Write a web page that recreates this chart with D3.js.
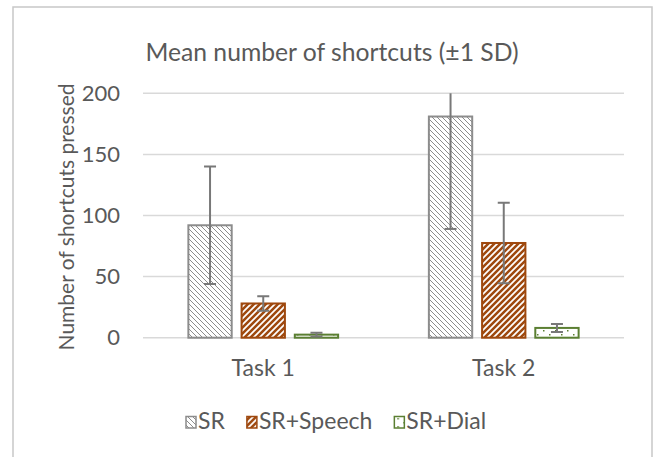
<!DOCTYPE html>
<html>
<head>
<meta charset="utf-8">
<style>
  body { margin: 0; background: #fff; }
  svg { font-family: Lato, "Open Sans", sans-serif; }
</style>
</head>
<body>
<svg width="653" height="457"></svg>
<script src="https://cdnjs.cloudflare.com/ajax/libs/d3/7.8.5/d3.min.js"></script>
<script>

// values
var tasks = ["Task 1", "Task 2"];
var series = ["SR", "SR+Speech", "SR+Dial"];
var meanSR = [92, 181],     sdSR = [48, 92];
var meanSpeech = [28, 77.5], sdSpeech = [6, 33];
var meanDial = [2.5, 8],    sdDial = [1.5, 3.3];
var yTicks = [0, 50, 100, 150, 200];

var means = [meanSR, meanSpeech, meanDial],
    sds = [sdSR, sdSpeech, sdDial];

var svg = d3.select("svg");
var textColor = "#595959";
var colors = ["#8c8c8c", "#9e480e", "#5b7f32"];

var margin = { left: 143, right: 624, top: 93.3, bottom: 337.7 };

// outer chart border (bottom runs off the picture)
svg.append("path")
    .attr("d", "M13,470V7H652V470")
    .attr("fill", "none")
    .attr("stroke", "#c8c8c8")
    .attr("stroke-width", 1.5);

// fill patterns
var defs = svg.append("defs");
var p1 = defs.append("pattern").attr("id", "pat0")
    .attr("patternUnits", "userSpaceOnUse").attr("width", 5).attr("height", 5);
p1.append("rect").attr("width", 5).attr("height", 5).attr("fill", "#fff");
p1.append("path").attr("d", "M0,0L5,5M-1,4L1,6M4,-1L6,1")
    .attr("stroke", "#8c8c8c").attr("stroke-width", 1);

var p2 = defs.append("pattern").attr("id", "pat1")
    .attr("patternUnits", "userSpaceOnUse").attr("width", 6).attr("height", 6);
p2.append("rect").attr("width", 6).attr("height", 6).attr("fill", "#fff");
p2.append("path").attr("d", "M0,6L6,0M-1,1L1,-1M5,7L7,5")
    .attr("stroke", "#9e480e").attr("stroke-width", 2.5);

var p3 = defs.append("pattern").attr("id", "pat2")
    .attr("patternUnits", "userSpaceOnUse").attr("width", 12).attr("height", 8);
p3.append("rect").attr("width", 12).attr("height", 8).attr("fill", "#fff");
p3.append("rect").attr("x", 3).attr("y", 2).attr("width", 1.5).attr("height", 1.5).attr("fill", "#5b7f32");
p3.append("rect").attr("x", 9).attr("y", 6).attr("width", 1.5).attr("height", 1.5).attr("fill", "#5b7f32");

var x = d3.scaleBand().domain(tasks).range([margin.left, margin.right]);
var xs = d3.scaleBand().domain(series).range([0, x.bandwidth()])
    .paddingInner(0.186).paddingOuter(0.853);
var y = d3.scaleLinear().domain([0, 200]).range([margin.bottom, margin.top]);

// gridlines
svg.append("g").selectAll("line")
    .data(yTicks)
  .enter().append("line")
    .attr("x1", margin.left).attr("x2", margin.right)
    .attr("y1", function(d) { return y(d); })
    .attr("y2", function(d) { return y(d); })
    .attr("stroke", "#d9d9d9")
    .attr("stroke-width", 1.5);

// y tick labels
svg.append("g").selectAll("text")
    .data(yTicks)
  .enter().append("text")
    .attr("x", 120)
    .attr("y", function(d) { return y(d); })
    .attr("dy", "0.35em")
    .attr("text-anchor", "end")
    .attr("fill", textColor)
    .style("font-size", "22px")
    .text(function(d) { return d; });

// bars
var rows = [];
series.forEach(function(s, i) {
  tasks.forEach(function(t, j) {
    rows.push({ task: t, series: s, idx: i, mean: means[i][j], sd: sds[i][j] });
  });
});

svg.append("g").selectAll("rect")
    .data(rows)
  .enter().append("rect")
    .attr("x", function(d) { return x(d.task) + xs(d.series); })
    .attr("y", function(d) { return y(d.mean); })
    .attr("width", xs.bandwidth())
    .attr("height", function(d) { return y(0) - y(d.mean); })
    .attr("fill", function(d) { return "url(#pat" + d.idx + ")"; })
    .attr("stroke", function(d) { return colors[d.idx]; })
    .attr("stroke-width", 2);

// error bars, clipped at the top of the axis
var eb = svg.append("g").selectAll("g")
    .data(rows)
  .enter().append("g")
    .attr("stroke", "#787878")
    .attr("stroke-width", 2);

eb.append("line")
    .attr("x1", function(d) { return x(d.task) + xs(d.series) + xs.bandwidth() / 2; })
    .attr("x2", function(d) { return x(d.task) + xs(d.series) + xs.bandwidth() / 2; })
    .attr("y1", function(d) { return y(Math.min(200, d.mean + d.sd)); })
    .attr("y2", function(d) { return y(Math.max(0, d.mean - d.sd)); });

eb.append("path")
    .attr("fill", "none")
    .attr("d", function(d) {
      var cx = x(d.task) + xs(d.series) + xs.bandwidth() / 2;
      var s = "";
      if (d.mean + d.sd <= 200) s += "M" + (cx - 6) + "," + y(d.mean + d.sd) + "H" + (cx + 6);
      s += "M" + (cx - 6) + "," + y(Math.max(0, d.mean - d.sd)) + "H" + (cx + 6);
      return s;
    });

// x labels
svg.append("g").selectAll("text")
    .data(tasks)
  .enter().append("text")
    .attr("x", function(d) { return x(d) + x.bandwidth() / 2; })
    .attr("y", 376)
    .attr("text-anchor", "middle")
    .attr("fill", textColor)
    .style("font-size", "23px")
    .text(function(d) { return d; });

// title
svg.append("text")
    .attr("x", 332)
    .attr("y", 61)
    .attr("text-anchor", "middle")
    .attr("fill", textColor)
    .style("font-size", "24.7px")
    .text("Mean number of shortcuts (\u00b11 SD)");

// y axis title
svg.append("text")
    .attr("transform", "translate(74,217) rotate(-90)")
    .attr("text-anchor", "middle")
    .attr("fill", textColor)
    .style("font-size", "21px")
    .text("Number of shortcuts pressed");

// legend
var legend = svg.append("g");
var items = legend.selectAll("g")
    .data(series)
  .enter().append("g");

items.append("rect")
    .attr("width", 10).attr("height", 11.5)
    .attr("y", 416.5)
    .attr("fill", function(d, i) { return "url(#pat" + i + ")"; })
    .attr("stroke", function(d, i) { return colors[i]; })
    .attr("stroke-width", 1.5);

items.append("text")
    .attr("x", 12)
    .attr("y", 428.5)
    .attr("fill", textColor)
    .style("font-size", "23px")
    .text(function(d) { return d; });

var pos = 186;
items.each(function() {
  var g = d3.select(this);
  g.attr("transform", "translate(" + pos + ",0)");
  pos += 12 + g.select("text").node().getComputedTextLength() + 22;
});

</script>
</body>
</html>
